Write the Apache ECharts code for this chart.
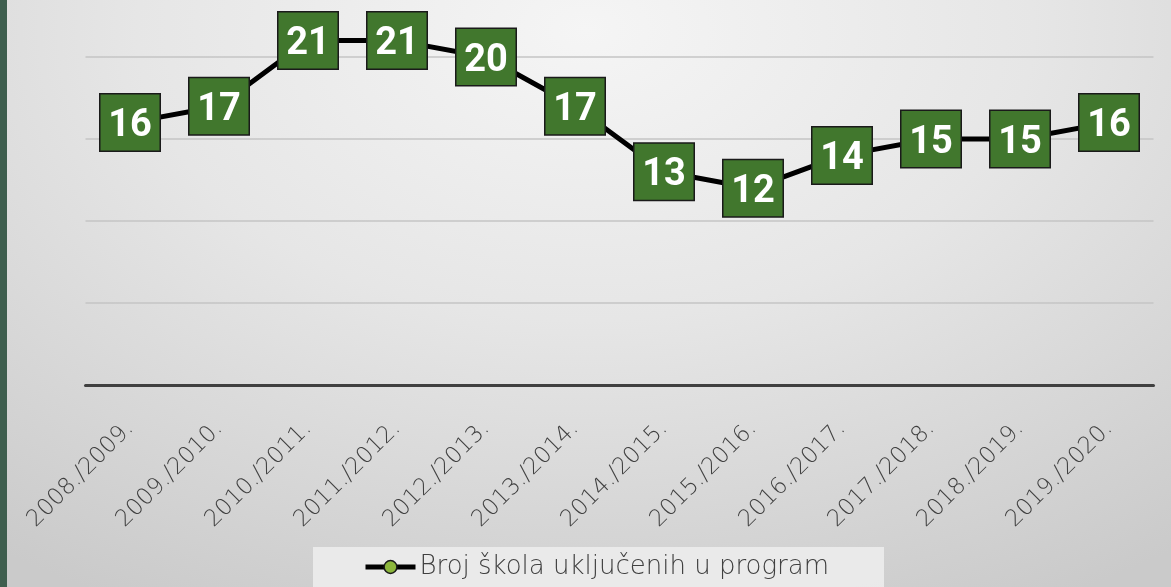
<!DOCTYPE html>
<html>
<head>
<meta charset="utf-8">
<script src="https://cdn.jsdelivr.net/npm/echarts@6/dist/echarts.min.js"></script>
<style>
html,body{margin:0;padding:0;}
#wrap{position:relative;width:1171px;height:587px;overflow:hidden;
background:radial-gradient(ellipse 85% 110% at 50% 5%, #f5f5f5 0%, #e6e6e6 45%, #cacaca 100%);}
#strip{position:absolute;left:0;top:0;width:7px;height:587px;background:#3e5e4e;z-index:2;}
#chart{position:absolute;left:0;top:-25px;width:1171px;height:612px;}
</style>
</head>
<body>
<div id="wrap"><div id="strip"></div><div id="chart"></div></div>
<script>
const categories = ['2008./2009.','2009./2010.','2010./2011.','2011./2012.','2012./2013.','2013./2014.','2014./2015.','2015./2016.','2016./2017.','2017./2018.','2018./2019.','2019./2020.'];
const values = [16,17,21,21,20,17,13,12,14,15,15,16];
const seriesName = 'Broj škola uključenih u program';

const chart = echarts.init(document.getElementById('chart'), null, {renderer:'canvas'});
chart.setOption({
  backgroundColor: 'transparent',
  animation: false,
  grid: {left: 85.5, right: 17.5, top: 0, bottom: 202},
  graphic: [{
    type: 'rect', left: 313, top: 572, z: 0,
    shape: {width: 571, height: 42},
    style: {fill: 'rgba(236,236,236,0.9)'}
  }],
  legend: {
    bottom: 2, left: 358,
    itemWidth: 50, itemHeight: 16, itemGap: 0,
    textStyle: {fontFamily: 'DejaVu Sans', fontWeight: 200, fontSize: 26, color: '#404040', padding: [0,0,0,-1]},
    data: [{name: seriesName, lineStyle: {width: 5, color: '#000'},
            itemStyle: {color: '#8cb63c', borderColor: '#1a1a1a', borderWidth: 1.5}}]
  },
  xAxis: {
    type: 'category', data: categories, boundaryGap: true,
    axisLine: {lineStyle: {color: '#404040', width: 3}},
    axisTick: {show: false},
    axisLabel: {rotate: 45, margin: 40, fontFamily: 'DejaVu Sans', fontWeight: 200, fontSize: 23, color: '#404040', interval: 0}
  },
  yAxis: {
    type: 'value', min: 0, max: 25, interval: 5,
    axisLabel: {show: false}, axisLine: {show: false}, axisTick: {show: false},
    splitLine: {lineStyle: {color: '#c4c4c4', width: 1.5}}
  },
  series: [{
    name: seriesName, type: 'line', data: values,
    symbol: 'circle', symbolSize: 13,
    itemStyle: {color: '#8cb63c', borderColor: '#000', borderWidth: 1.5},
    lineStyle: {color: '#000', width: 5},
    z: 3,
    label: {
      show: true, position: 'inside',
      formatter: '{v|{c}}',
      backgroundColor: '#41772d', borderColor: '#1a1a1a', borderWidth: 1.5,
      padding: [0, 12, 0, 12],
      rich: {
        v: {fontFamily: 'Roboto', fontWeight: 'bold', fontSize: 38, color: '#fff',
            width: 35, align: 'center', height: 56, lineHeight: 56, padding: [8, 0, 0, 0]}
      }
    }
  }]
});
</script>
</body>
</html>
